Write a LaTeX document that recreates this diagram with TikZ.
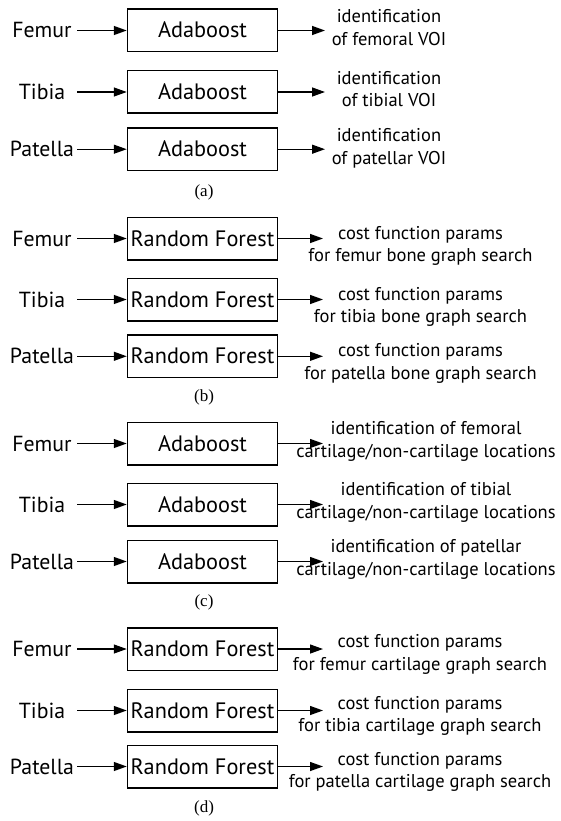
\documentclass[tikz,border=0pt]{standalone}
\usepackage{fontspec}
\setmainfont{PT Sans}
\newfontfamily\capfont{Liberation Serif}
\usetikzlibrary{arrows.meta}
\tikzset{
  boxst/.style={draw, line width=1.5pt, minimum width=150pt, minimum height=42.5pt, inner sep=0pt,
    font=\fontsize{22.3}{26}\selectfont, text height=15pt, text depth=0pt},
  labst/.style={font=\fontsize{21.8}{26}\selectfont, minimum width=70pt, inner sep=0pt,
    text height=15pt, text depth=0pt},
  outst/.style={font=\fontsize{18.5}{22}\selectfont, anchor=base, inner sep=0pt},
  capst/.style={font=\capfont\fontsize{17}{20}\selectfont, inner sep=0pt},
  arr/.style={-{Triangle[length=13pt,width=9pt]}, line width=1.3pt},
}
\newcommand{\drow}[9]{%
  \node[boxst] (#1box) at (202.5,#2) {#4};
  \node[labst] (#1lab) at (42,#2) {#3};
  \coordinate (#1end) at (#5,#2);
  \draw[arr] (#1lab.east) -- (#1box.west);
  \draw[arr] (#1box.east) -- (#1end);
  \node[outst] (#1oa) at (#6,{#2+(#7)}) {#8};
  \node[outst] (#1ob) at (#6,{#2+(#7)+22.5}) {#9};
}
\begin{document}
\begin{tikzpicture}[x=1pt,y=-1pt]
\fill[white] (0,0) rectangle (560,821);
\useasboundingbox (0,0) rectangle (560,821);
% (a)
\drow{a1}{30.5}{Femur}{Adaboost}{325}{389}{-7.5}{identification}{of femoral VOI}
\drow{a2}{92}{Tibia}{Adaboost}{325}{389}{-7.5}{identification}{of tibial VOI}
\drow{a3}{149.2}{Patella}{Adaboost}{325}{389}{-7.5}{identification}{of patellar VOI}
\node[capst] (capa) at (204,192) {(a)};
% (b)
\drow{b1}{238.5}{Femur}{Random Forest}{323}{420.5}{0.5}{cost function params}{for femur bone graph search}
\drow{b2}{299.5}{Tibia}{Random Forest}{323}{420.5}{0.5}{cost function params}{for tibia bone graph search}
\drow{b3}{356.3}{Patella}{Random Forest}{323}{420.5}{0.5}{cost function params}{for patella bone graph search}
\node[capst] (capb) at (204,397) {(b)};
% (c)
\drow{c1}{443.5}{Femur}{Adaboost}{323}{426}{-9}{identification of femoral}{cartilage/non-cartilage locations}
\drow{c2}{504.5}{Tibia}{Adaboost}{323}{426}{-9}{identification of tibial}{cartilage/non-cartilage locations}
\drow{c3}{561.5}{Patella}{Adaboost}{323}{426}{-9}{identification of patellar}{cartilage/non-cartilage locations}
\node[capst] (capc) at (204,602) {(c)};
% (d)
\drow{d1}{649}{Femur}{Random Forest}{323}{420}{-1.5}{cost function params}{for femur cartilage graph search}
\drow{d2}{710.5}{Tibia}{Random Forest}{323}{420}{-1.5}{cost function params}{for tibia cartilage graph search}
\drow{d3}{766.5}{Patella}{Random Forest}{323}{420}{-1.5}{cost function params}{for patella cartilage graph search}
\node[capst] (capd) at (204,808) {(d)};
\end{tikzpicture}
\end{document}
